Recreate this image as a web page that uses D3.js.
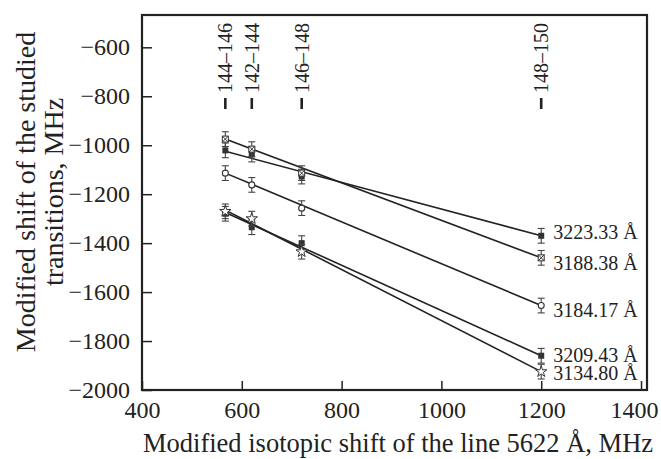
<!DOCTYPE html>
<html>
<head>
<meta charset="utf-8">
<script src="https://cdn.jsdelivr.net/npm/d3@7"></script>
<style>
  body { margin: 0; background: #fff; }
  svg text { font-family: "Liberation Serif", "Times New Roman", serif; fill: #222; }
</style>
</head>
<body>
<div class="chart"></div>
<script>
// data
const xValues = [567, 620, 720, 1200];
const seriesNames = ["3223.33 Å", "3188.38 Å", "3184.17 Å", "3209.43 Å", "3134.80 Å"];
const seriesMarkers = ["filled", "cross", "open", "filled", "star"];
const s3223 = [-1021, -1038, -1128, -1370];
const s3188 = [-975, -1016, -1114, -1460];
const s3184 = [-1114, -1162, -1257, -1655];
const s3209 = [-1280, -1335, -1400, -1860];
const s3134 = [-1270, -1300, -1435, -1925];
const fitStart = [-1025, -975, -1114, -1275, -1265];
const fitEnd = [-1370, -1460, -1655, -1860, -1925];
const errorBar = 30;
const pairLabels = ["144–146", "142–144", "146–148", "148–150"];
const xTicks = [400, 600, 800, 1000, 1200, 1400];
const yTicks = [-2000, -1800, -1600, -1400, -1200, -1000, -800, -600];

const allSeries = [s3223, s3188, s3184, s3209, s3134];
const labelShift = [-4, 5, 4, -1, 1.5];

const width = 661, height = 459;
const svg = d3.select(".chart").append("svg")
  .attr("width", width).attr("height", height);

const xScale = d3.scaleLinear().domain([400, 1412]).range([142, 647]);
const yScale = d3.scaleLinear().domain([-2000, -468]).range([390, 15]);
const ink = "#222";

// axes with inward ticks
const xAxis = d3.axisBottom(xScale).tickValues(xTicks).tickSize(-9).tickPadding(11)
  .tickFormat(d3.format("d"));
svg.append("g").attr("transform", "translate(0,390)").call(xAxis)
  .call(g => g.select(".domain").remove())
  .call(g => g.selectAll("line").attr("stroke", ink).attr("stroke-width", 1.5))
  .call(g => g.selectAll("text").style("font-size", "24px").attr("fill", ink)
    .attr("dx", d => d === 1400 ? -7 : 0));

const yAxis = d3.axisLeft(yScale).tickValues(yTicks).tickSize(-10).tickPadding(12)
  .tickFormat(d => "\u2212" + Math.abs(d));
svg.append("g").attr("transform", "translate(142,0)").call(yAxis)
  .call(g => g.select(".domain").remove())
  .call(g => g.selectAll("line").attr("stroke", ink).attr("stroke-width", 1.5))
  .call(g => g.selectAll("text").style("font-size", "24px").attr("fill", ink));

// frame
svg.append("rect")
  .attr("x", xScale(400)).attr("y", yScale(-468))
  .attr("width", xScale(1412) - xScale(400))
  .attr("height", yScale(-2000) - yScale(-468))
  .attr("fill", "none").attr("stroke", ink).attr("stroke-width", 2.2);

// fitted lines
svg.selectAll(".fit").data(fitStart).enter().append("line")
  .attr("class", "fit")
  .attr("x1", xScale(xValues[0])).attr("x2", xScale(xValues[3]))
  .attr("y1", d => yScale(d)).attr("y2", (d, i) => yScale(fitEnd[i]))
  .attr("stroke", ink).attr("stroke-width", 1.6);

// error bars and markers
allSeries.forEach((vals, si) => {
  const g = svg.append("g");
  vals.forEach((v, i) => {
    const cx = xScale(xValues[i]), cy = yScale(v);
    const top = yScale(v + errorBar), bot = yScale(v - errorBar);
    g.append("line").attr("x1", cx).attr("x2", cx).attr("y1", top).attr("y2", bot)
      .attr("stroke", "#444").attr("stroke-width", 1.1);
    [top, bot].forEach(yy => g.append("line")
      .attr("x1", cx - 3.5).attr("x2", cx + 3.5).attr("y1", yy).attr("y2", yy)
      .attr("stroke", "#444").attr("stroke-width", 1.1));
    const m = seriesMarkers[si];
    if (m === "filled") {
      g.append("rect").attr("x", cx - 3).attr("y", cy - 3).attr("width", 6).attr("height", 6)
        .attr("fill", "#333");
    } else if (m === "cross") {
      g.append("rect").attr("x", cx - 3).attr("y", cy - 3).attr("width", 6).attr("height", 6)
        .attr("fill", "#fff").attr("stroke", "#333").attr("stroke-width", 1);
      g.append("path").attr("d", `M${cx - 3},${cy - 3}L${cx + 3},${cy + 3}M${cx + 3},${cy - 3}L${cx - 3},${cy + 3}`)
        .attr("stroke", "#333").attr("stroke-width", 1);
    } else if (m === "open") {
      g.append("circle").attr("cx", cx).attr("cy", cy).attr("r", 3)
        .attr("fill", "#fff").attr("stroke", "#333").attr("stroke-width", 1.1);
    } else {
      g.append("path").attr("d", d3.symbol(d3.symbolStar, 40)())
        .attr("transform", `translate(${cx},${cy})`)
        .attr("fill", "#fff").attr("stroke", "#333").attr("stroke-width", 1);
    }
  });
});

// series labels at right
svg.selectAll(".slabel").data(seriesNames).enter().append("text")
  .attr("class", "slabel")
  .attr("x", xScale(xValues[3]) + 12)
  .attr("y", (d, i) => yScale(allSeries[i][3]) + labelShift[i] + 7)
  .style("font-size", "20px")
  .text(d => d);

// isotope pair labels along the top
pairLabels.forEach((t, i) => {
  const cx = xScale(xValues[i]);
  svg.append("line").attr("x1", cx).attr("x2", cx).attr("y1", 98).attr("y2", 109)
    .attr("stroke", ink).attr("stroke-width", 2.6);
  svg.append("text")
    .attr("transform", `translate(${cx + 7},93) rotate(-90)`)
    .style("font-size", "20px")
    .text(t);
});

// axis titles
svg.append("text")
  .attr("x", 398).attr("y", 452)
  .attr("text-anchor", "middle")
  .style("font-size", "26.5px")
  .text("Modified isotopic shift of the line 5622 Å, MHz");

const yTitle = svg.append("text")
  .attr("transform", "translate(35,192) rotate(-90)")
  .attr("text-anchor", "middle")
  .style("font-size", "28px");
yTitle.append("tspan").attr("x", 0).attr("dy", 0).text("Modified shift of the studied");
yTitle.append("tspan").attr("x", 0).attr("dy", 28).text("transitions, MHz");
</script>
</body>
</html>
